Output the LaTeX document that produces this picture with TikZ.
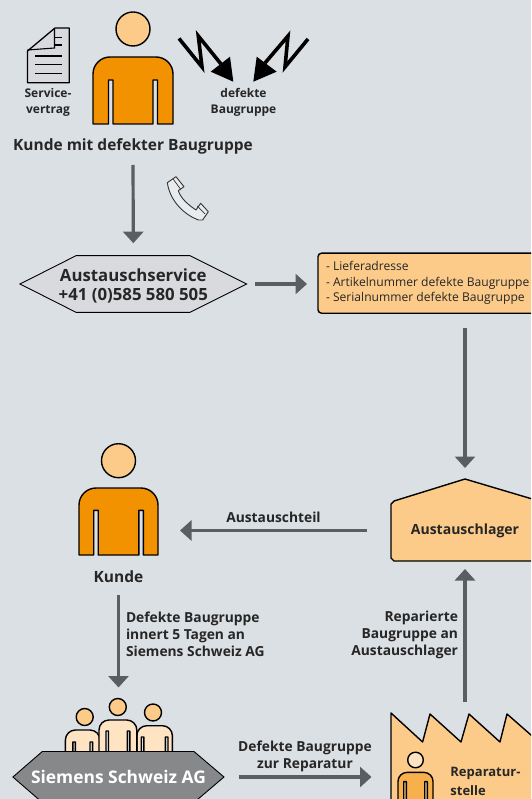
\documentclass[tikz,border=0pt]{standalone}
\usepackage{fontspec}
\setmainfont{Open Sans}
\usetikzlibrary{arrows.meta}
\definecolor{bgc}{HTML}{DBE0E4}
\definecolor{orangec}{HTML}{F39200}
\definecolor{peach}{HTML}{FCCB8A}
\definecolor{pale}{HTML}{FFE4C4}
\definecolor{midor}{HTML}{F8B04C}
\definecolor{arrowc}{HTML}{5A5E60}
\definecolor{hexc}{HTML}{D8DADD}
\definecolor{darkhex}{HTML}{87888A}
\definecolor{txt}{HTML}{262626}
\tikzset{
  outline/.style={draw=black,line width=1.4pt,line join=round},
  conn/.style={draw=arrowc,line width=3.2pt,-{Triangle[length=11.5pt,width=20pt]}},
  bound/.style={inner sep=0pt,outer sep=0pt,align=center,text=txt},
  lab/.style={inner sep=0pt,outer sep=0pt,align=center,text=txt,font=\bfseries\fontsize{13.8}{17}\selectfont},
  small/.style={inner sep=0pt,outer sep=0pt,align=center,text=txt,font=\bfseries\fontsize{12}{16}\selectfont},
  big/.style={inner sep=0pt,outer sep=0pt,align=center,text=txt,font=\bfseries\fontsize{15.5}{17}\selectfont},
}
% fill, x1, x2, top, bottom, slot inset, slot width, slot top, radius
\newcommand\bodyshape[9]{%
  \path[outline,fill=#1] (#2,#5) -- (#2,{#4+#9}) .. controls (#2,{#4+0.45*#9}) and ({#2+0.45*#9},#4) .. ({#2+#9},#4)
    -- ({#3-#9},#4) .. controls ({#3-0.45*#9},#4) and (#3,{#4+0.45*#9}) .. (#3,{#4+#9})
    -- (#3,#5) -- ({#3-#6+0},#5) -- ({#3-#6},#8) -- ({#3-#6-#7},#8) -- ({#3-#6-#7},#5)
    -- ({#2+#6+#7},#5) -- ({#2+#6+#7},#8) -- ({#2+#6},#8) -- ({#2+#6},#5) -- cycle;}
\begin{document}
\begin{tikzpicture}[x=1pt,y=-1pt]
\useasboundingbox (0,0) rectangle (531,799);
\clip (0,0) rectangle (531,799);
\fill[bgc] (0,0) rectangle (531,799);

% document icon
\path[draw=black,line width=1.3pt,fill=hexc,line join=round] (27.5,51) -- (55,28) -- (69.3,28) -- (69.3,82.7) -- (27.5,82.7) -- cycle;
\path[draw=black,line width=1.1pt] (27.5,50) -- (54.5,48) -- (54.5,29);
\path[draw=black,line width=1.1pt] (54.5,37.5) -- (62,37.5) (54.5,45) -- (62,45) (35,56) -- (62,56) (35,64.7) -- (62,64.7) (35,73.3) -- (62,73.3);

% first person
\filldraw[outline,fill=peach] (133,29) circle (17);
\bodyshape{orangec}{93}{173}{57}{124}{15.5}{4.5}{80}{17}

% lightning arrows
\path[draw=black,line width=3.6pt,line join=miter] (179,38.5) -- (202,67) -- (198.3,36) -- (221,64);
\fill[black] (233.3,81.7) -- (210.7,71.7) -- (230,56.7) -- cycle;
\path[draw=black,line width=3.6pt,line join=miter] (308,39) -- (285,67) -- (288,36) -- (265,63);
\fill[black] (253.3,81.7) -- (256.7,56.7) -- (276.7,71.7) -- cycle;

% phone
\begin{scope}[shift={(160,170)},x=0.3333pt,y=-0.3333pt]
\path[draw=black!80,line width=0.9pt,fill=bgc!60!white,line join=round]
 (22,38) -- (48,20) -- (72,50) -- (55,62) .. controls (62,85) and (85,105) .. (108,120) -- (122,100) -- (145,125) -- (128,150) -- (115,150)
 .. controls (75,135) and (30,95) .. (22,38) -- cycle;
\path[draw=black!80,line width=0.7pt] (40,28) -- (62,58) (112,108) -- (135,132);
\end{scope}

% info box
\node[bound,draw=black,line width=1.4pt,fill=peach,rounded corners=3.5pt,minimum width=232pt,minimum height=60pt,anchor=west] (info) at (318,283.2) {};
\node[bound,anchor=north west,align=left,font=\fontsize{12.1}{15.3}\selectfont] (infotext) at (326,261.5) {- Lieferadresse\\- Artikelnummer defekte Baugruppe\\- Serialnummer defekte Baugruppe};

% hexagon Austauschservice
\path[draw=black,line width=0.9pt,fill=hexc] (20,284) -- (76,255.7) -- (190,255.7) -- (246.7,284) -- (190,312.3) -- (76,312.3) -- cycle;
\node[bound,minimum width=226.7pt,minimum height=56.6pt] (hexA) at (133.3,284) {};
\node[big,font=\bfseries\fontsize{16.8}{19}\selectfont] (hexAlabel) at (133.3,285.5) {Austauschservice\\+41 (0)585 580 505};

% Austauschlager
\path[outline,fill=peach] (465,479) -- (539,501) -- (539,561) -- (394,561) -- (391,558) -- (391,504) -- (394,501) -- cycle;
\node[bound,minimum width=148pt,minimum height=82pt] (lager) at (465,520) {};
\node[big,font=\bfseries\fontsize{14}{17}\selectfont] (lagerlabel) at (465,530.5) {Austauschlager};

% second person
\filldraw[outline,fill=peach] (118.5,460.7) circle (17);
\bodyshape{orangec}{79}{158}{488}{555}{14.7}{4.5}{510.3}{17}
\node[bound,minimum width=79pt,minimum height=67pt] (kundeB) at (118.5,521.5) {};

% staff group
\bodyshape{pale}{65.4}{100}{730}{753}{7.4}{2.6}{742}{10}
\bodyshape{pale}{136.8}{172.4}{725.7}{753}{4.4}{2.7}{737}{10}
\bodyshape{pale}{99}{136.8}{720}{753}{7}{2.5}{731}{10}
\filldraw[outline,fill=peach] (84.7,717) circle (8.5);
\filldraw[outline,fill=peach] (117.8,707) circle (8.5);
\filldraw[outline,fill=peach] (153,712.5) circle (8.5);
\node[bound,minimum width=107pt,minimum height=53pt] (staff) at (118.5,724.5) {};

% Siemens hexagon
\path[draw=black,line width=0.9pt,fill=darkhex] (12.9,777) -- (42.3,751.5) -- (194,751.5) -- (224,777) -- (194,802.5) -- (42.3,802.5) -- cycle;
\node[bound,minimum width=211pt,minimum height=51pt,text=white,font=\bfseries\fontsize{17.4}{17}\selectfont] (siemens) at (118.5,777) {Siemens Schweiz AG};

% factory
\path[outline,fill=peach] (391,713) -- (422.6,742) -- (430,714) -- (461,742) -- (469,714) -- (500,742) -- (507,714) -- (539,742) -- (539,815) -- (391,815) -- cycle;
\node[bound,minimum width=148pt,minimum height=100pt] (repair) at (465,763) {};
\filldraw[outline,fill=pale] (415.5,760) circle (7.8);
\bodyshape{midor}{398}{433}{772.4}{815}{5.7}{2.6}{781.6}{9}
\node[bound,anchor=west,align=left,font=\bfseries\fontsize{13}{18.5}\selectfont] (repairtext) at (450.4,781.5) {Reparatur-\\stelle};

% labels
\node[small] (servicetext) at (48,102) {Service-\\vertrag};
\node[small] (defekt) at (243.5,102) {defekte\\Baugruppe};
\node[big,minimum height=20pt] (kundeA) at (133,146.5) {Kunde mit defekter Baugruppe};
\node[big,minimum height=20pt] (kundeBtext) at (118.5,577) {Kunde};
\node[lab] (austeil) at (273.5,517) {Austauschteil};
\node[lab,anchor=west,align=left] (lab1) at (126,634) {Defekte Baugruppe\\innert 5 Tagen an\\Siemens Schweiz AG};
\node[lab,anchor=east,align=right] (lab2) at (458,635) {Reparierte\\Baugruppe an\\Austauschlager};
\node[lab] (lab3) at (305,756) {Defekte Baugruppe\\zur Reparatur};

% connectors
\draw[conn,shorten <=8.5pt,shorten >=1pt] (kundeA.south) -- ([yshift=11.5pt]hexA.north);
\draw[conn,shorten <=8.7pt,shorten >=11pt] (hexA.east) -- (hexA.east -| info.west);
\draw[conn,shorten <=15pt,shorten >=11pt] (lager.north |- info.south) -- (lager.north);
\draw[conn,shorten <=24pt,shorten >=22pt] (lager.west |- lagerlabel) -- (kundeB.east |- lagerlabel);
\draw[conn,shorten <=8pt,shorten >=10.5pt] (kundeBtext.south) -- (staff.north);
\draw[conn,shorten <=15.4pt,shorten >=19.5pt] (siemens.east) -- (siemens.east -| repair.west);
\draw[conn,shorten <=11pt,shorten >=8pt] (repair.north) -- (lager.south);
\end{tikzpicture}
\end{document}
